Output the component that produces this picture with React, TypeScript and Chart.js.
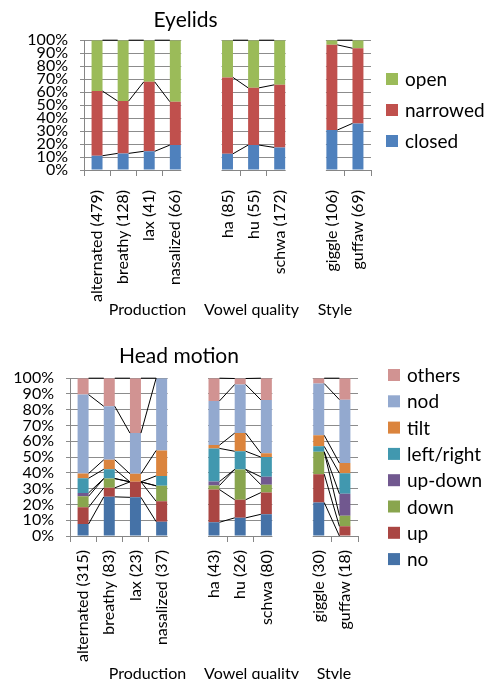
import React, { useEffect, useRef } from 'react';
import { Chart, registerables } from 'chart.js';

Chart.register(...registerables);

// ---------- data ----------
const groupSizes = [4, 3, 2];
const groupNames = ['Production', 'Vowel quality', 'Style'];

const eyelidCategories = ['alternated (479)', 'breathy (128)', 'lax (41)', 'nasalized (66)', 'ha (85)', 'hu (55)', 'schwa (172)', 'giggle (106)', 'guffaw (69)'];
const eyeClosed = [11, 12.8, 14.4, 19.2, 12.5, 19.2, 17.4, 30.8, 35.9];
const eyeNarrowed = [49.8, 40.3, 53.5, 33.4, 58.8, 44.1, 48.2, 65.6, 57.9];
const eyeOpen = [39.2, 46.9, 32.1, 47.4, 28.7, 36.7, 34.4, 3.6, 6.2];

const headCategories = ['alternated (315)', 'breathy (83)', 'lax (23)', 'nasalized (37)', 'ha (43)', 'hu (26)', 'schwa (80)', 'giggle (30)', 'guffaw (18)'];
const headNo = [7.6, 24.8, 24.5, 9.1, 8.7, 11.5, 13.75, 21.2, 0];
const headUp = [10.6, 5.7, 9.8, 12.9, 20.7, 11.5, 13.75, 18, 6.1];
const headDown = [7, 5.9, 0, 9.8, 2.6, 19.2, 5, 14.2, 6.8];
const headUpDown = [2.1, 0, 0, 0, 2.5, 0, 5, 0, 13.8];
const headLeftRight = [9.3, 5.9, 0, 6.3, 21, 11.5, 12.5, 3.4, 13.1];
const headTilt = [3, 6, 5.1, 16.1, 2.1, 11.5, 2.5, 7, 6.4];
const headNod = [50, 33.9, 25.8, 45.8, 28, 30.8, 33.75, 32.8, 40.2];
const headOthers = [10.4, 17.8, 34.8, 0, 14.4, 3.8, 13.75, 3.4, 13.6];

const yTicks = [0, 10, 20, 30, 40, 50, 60, 70, 80, 90, 100];

// ---------- helpers ----------
// insert an empty slot between groups
function withGaps<T>(arr: T[], filler: T): T[] {
  const out: T[] = [];
  let k = 0;
  groupSizes.forEach((n, gi) => {
    if (gi > 0) out.push(filler);
    for (let i = 0; i < n; i++) out.push(arr[k++]);
  });
  return out;
}
function groupSlots(): number[][] {
  const res: number[][] = [];
  let s = 0;
  groupSizes.forEach((n) => {
    const g: number[] = [];
    for (let i = 0; i < n; i++) g.push(s + i);
    res.push(g);
    s += n + 1;
  });
  return res;
}

const FONT = 'Lato, "Open Sans", sans-serif';

const excelDeco = {
  id: 'excelDeco',
  beforeDatasetsDraw(chart: any) {
    const ctx = chart.ctx;
    const meta = chart.getDatasetMeta(0);
    const area = chart.chartArea;
    const groups = groupSlots();
    ctx.save();
    ctx.fillStyle = '#ffffff';
    for (let g = 0; g < groups.length - 1; g++) {
      const a = meta.data[groups[g][groups[g].length - 1]];
      const b = meta.data[groups[g + 1][0]];
      const x1 = a.x + a.width / 2 + 0.5;
      const x2 = b.x - b.width / 2 - 0.5;
      ctx.fillRect(x1, area.top - 3, x2 - x1, area.bottom - area.top + 14);
    }
    ctx.restore();
  },
  afterDatasetsDraw(chart: any) {
    const ctx = chart.ctx;
    const groups = groupSlots();
    ctx.save();
    ctx.strokeStyle = '#000000';
    ctx.lineWidth = 1;
    chart.data.datasets.forEach((_d: any, di: number) => {
      const meta = chart.getDatasetMeta(di);
      groups.forEach((g) => {
        for (let i = 0; i < g.length - 1; i++) {
          const a = meta.data[g[i]];
          const b = meta.data[g[i + 1]];
          ctx.beginPath();
          ctx.moveTo(a.x + a.width / 2, a.y);
          ctx.lineTo(b.x - b.width / 2, b.y);
          ctx.stroke();
        }
      });
    });
    ctx.restore();
  },
  afterDraw(chart: any, _args: any, opts: any) {
    const ctx = chart.ctx;
    ctx.save();
    // legend
    const ds = chart.data.datasets;
    ctx.font = `${opts.legendFont}px ${FONT}`;
    ctx.textBaseline = 'middle';
    ctx.textAlign = 'left';
    for (let k = 0; k < ds.length; k++) {
      const d = ds[ds.length - 1 - k];
      const cy = opts.legendTop + k * opts.legendStep;
      ctx.fillStyle = d.backgroundColor;
      ctx.fillRect(opts.legendX, cy - 6, 12, 12);
      ctx.fillStyle = '#000';
      ctx.fillText(d.label, opts.legendX + 19, cy + 1);
    }
    // group labels
    ctx.font = `${opts.groupFont}px ${FONT}`;
    ctx.textAlign = 'center';
    groupNames.forEach((name, i) => {
      ctx.fillText(name, opts.groupX[i], opts.groupY);
    });
    ctx.restore();
  },
};

function makeConfig(p: {
  title: string;
  labels: string[];
  series: { label: string; data: number[]; color: string }[];
  yWidth: number;
  xHeight: number;
  padRight: number;
  titlePad: { top: number; bottom: number };
  tickPad: number;
  deco: any;
}) {
  return {
    type: 'bar' as const,
    data: {
      labels: withGaps(p.labels, ''),
      datasets: p.series.map((s) => ({
        label: s.label,
        data: withGaps<number | null>(s.data, null),
        backgroundColor: s.color,
        borderWidth: 0,
        categoryPercentage: 1,
        barPercentage: 0.42,
      })),
    },
    options: {
      responsive: false,
      animation: false,
      layout: { padding: { right: p.padRight, left: 0, top: 0, bottom: 0 } },
      plugins: {
        legend: { display: false },
        tooltip: { enabled: false },
        title: {
          display: true,
          text: p.title,
          color: '#000',
          font: { family: FONT, size: 21, weight: 'normal' },
          padding: p.titlePad,
        },
        excelDeco: p.deco,
      },
      scales: {
        x: {
          stacked: true,
          grid: { drawOnChartArea: false, drawTicks: true, tickLength: 6, color: '#868686', offset: true },
          border: { display: true, color: '#868686' },
          ticks: {
            autoSkip: false,
            minRotation: 90,
            maxRotation: 90,
            padding: p.tickPad,
            color: '#000',
            font: { family: FONT, size: 16 },
          },
          afterFit: (s: any) => {
            s.height = p.xHeight;
          },
        },
        y: {
          stacked: true,
          min: 0,
          max: 100,
          afterBuildTicks: (s: any) => {
            s.ticks = yTicks.map((v) => ({ value: v }));
          },
          grid: { color: '#8c8c8c', tickLength: 4, drawTicks: true },
          border: { display: true, color: '#868686' },
          ticks: {
            autoSkip: false,
            padding: 12,
            color: '#000',
            font: { family: FONT, size: 16 },
            callback: (v: any) => v + '%',
          },
          afterFit: (s: any) => {
            s.width = p.yWidth;
          },
        },
      },
    },
    plugins: [excelDeco],
  };
}

function ChartCanvas({ config, height }: { config: any; height: number }) {
  const ref = useRef<HTMLCanvasElement | null>(null);
  useEffect(() => {
    if (!ref.current) return;
    const c = new Chart(ref.current, config);
    return () => c.destroy();
  }, [config]);
  return <canvas ref={ref} width={492} height={height} style={{ display: 'block', width: 492, height }} />;
}

const topConfig = makeConfig({
  title: 'Eyelids',
  labels: eyelidCategories,
  series: [
    { label: 'closed', data: eyeClosed, color: '#4F81BD' },
    { label: 'narrowed', data: eyeNarrowed, color: '#C0504D' },
    { label: 'open', data: eyeOpen, color: '#9BBB59' },
  ],
  yWidth: 84,
  xHeight: 165,
  padRight: 121,
  titlePad: { top: 8, bottom: 7 },
  tickPad: 14,
  deco: { legendX: 386, legendTop: 79, legendStep: 31, legendFont: 19, groupFont: 16, groupX: [147.5, 251.5, 335], groupY: 310 },
});

const bottomConfig = makeConfig({
  title: 'Head motion',
  labels: headCategories,
  series: [
    { label: 'no', data: headNo, color: '#4572A7' },
    { label: 'up', data: headUp, color: '#AA4643' },
    { label: 'down', data: headDown, color: '#89A54E' },
    { label: 'up-down', data: headUpDown, color: '#71588F' },
    { label: 'left/right', data: headLeftRight, color: '#4198AF' },
    { label: 'tilt', data: headTilt, color: '#DB843D' },
    { label: 'nod', data: headNod, color: '#93A9CF' },
    { label: 'others', data: headOthers, color: '#D19392' },
  ],
  yWidth: 70,
  xHeight: 143,
  padRight: 134,
  titlePad: { top: 9, bottom: 9 },
  tickPad: 8,
  deco: { legendX: 388, legendTop: 40, legendStep: 26.3, legendFont: 19, groupFont: 16, groupX: [147.5, 251.5, 334], groupY: 339 },
});

export default function App() {
  return (
    <div style={{ position: 'absolute', left: 0, top: 0, width: 492, height: 679, background: '#fff', overflow: 'hidden' }}>
      <ChartCanvas config={topConfig} height={335} />
      <ChartCanvas config={bottomConfig} height={344} />
    </div>
  );
}
